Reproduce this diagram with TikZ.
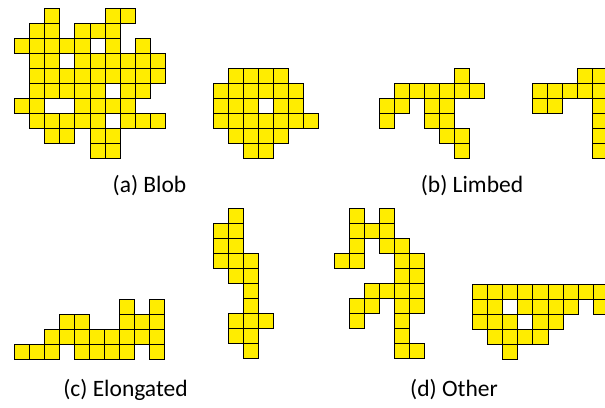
\documentclass[tikz,border=0pt]{standalone}
\usepackage{fontspec}
\setmainfont{Carlito}
\definecolor{cellyellow}{RGB}{255,237,0}
\tikzset{
  cell/.style={draw=black, fill=cellyellow, line width=0.9pt},
  caption/.style={font=\fontsize{23.5}{26}\selectfont, inner sep=0pt, anchor=center}
}
\newcommand\shapecells[3]{%
  \begin{scope}[shift={(#1,#2)}]
    \foreach \c/\r in {#3} {\draw[cell] ({15.05*\c},{15.05*\r}) rectangle ++(15.05,15.05);}
  \end{scope}}
\begin{document}
\begin{tikzpicture}[x=1pt,y=-1pt]
\useasboundingbox (0,0) rectangle (605,407);
\clip (0,0) rectangle (605,407);
% (a) Blob, first
\shapecells{14.7}{8.3}{2/0,6/0,7/0,
 1/1,2/1,4/1,5/1,6/1,
 0/2,1/2,2/2,3/2,4/2,6/2,8/2,
 1/3,2/3,4/3,5/3,6/3,7/3,8/3,9/3,
 1/4,2/4,3/4,4/4,5/4,6/4,7/4,8/4,9/4,
 1/5,2/5,3/5,4/5,5/5,7/5,8/5,
 0/6,1/6,4/6,5/6,6/6,7/6,
 1/7,2/7,3/7,4/7,5/7,7/7,8/7,9/7,
 2/8,3/8,5/8,6/8,
 5/9,6/9}
% (a) Blob, second
\shapecells{213.3}{68.3}{1/0,2/0,3/0,4/0,
 0/1,1/1,2/1,3/1,4/1,5/1,
 0/2,1/2,2/2,4/2,5/2,
 0/3,1/3,2/3,3/3,4/3,5/3,6/3,
 1/4,2/4,3/4,4/4,
 2/5,3/5}
% (b) Limbed, first
\shapecells{379.3}{68.3}{5/0,
 1/1,2/1,3/1,4/1,5/1,6/1,
 0/2,1/2,3/2,4/2,
 0/3,3/3,4/3,
 4/4,5/4,
 5/5}
% (b) Limbed, second
\shapecells{532.7}{68.3}{3/0,4/0,
 0/1,1/1,2/1,3/1,4/1,
 0/2,1/2,4/2,
 4/3,4/4,4/5}
% (c) Elongated, first
\shapecells{14.3}{299.3}{7/0,9/0,
 3/1,4/1,7/1,8/1,9/1,
 2/2,3/2,4/2,5/2,6/2,7/2,8/2,9/2,
 0/3,1/3,2/3,4/3,5/3,6/3,7/3,9/3}
% (c) Elongated, second
\shapecells{213.3}{208.3}{1/0,0/1,1/1,0/2,1/2,0/3,1/3,2/3,1/4,2/4,2/5,2/6,1/7,2/7,3/7,1/8,2/8,2/9}
% (d) Other, first
\shapecells{334.3}{208.3}{1/0,3/0,
 1/1,2/1,3/1,
 1/2,3/2,4/2,
 0/3,1/3,4/3,5/3,
 4/4,5/4,
 2/5,3/5,4/5,5/5,
 1/6,2/6,4/6,5/6,
 1/7,4/7,
 4/8,
 4/9,5/9}
% (d) Other, second
\shapecells{472.7}{284}{0/0,1/0,2/0,3/0,4/0,5/0,6/0,7/0,8/0,
 0/1,1/1,3/1,4/1,5/1,6/1,8/1,
 0/2,1/2,2/2,4/2,5/2,
 1/3,2/3,3/3,4/3,
 2/4}
% captions
\node[caption] (capa) at (149.5,186) {(a) Blob};
\node[caption] (capb) at (472,186) {(b) Limbed};
\node[caption] (capc) at (125.5,390) {(c) Elongated};
\node[caption] (capd) at (454,390) {(d) Other};
\end{tikzpicture}
\end{document}
